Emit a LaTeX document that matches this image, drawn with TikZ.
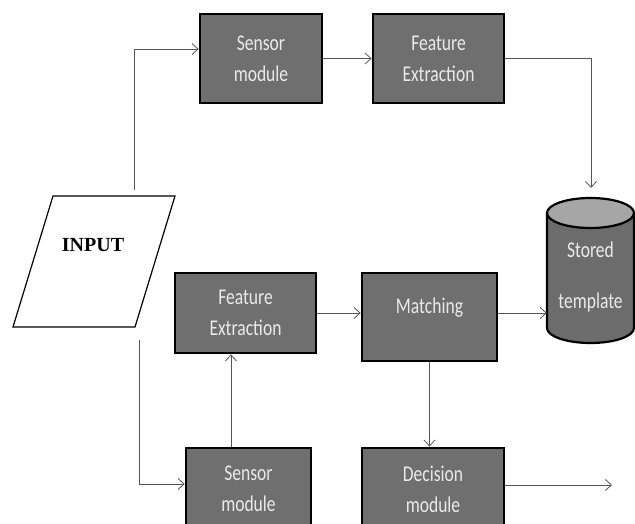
\documentclass[tikz,border=0pt]{standalone}
\usepackage{fontspec}
\usetikzlibrary{arrows.meta,calc}
\newfontfamily\boxfont[FakeStretch=0.78]{Carlito}
\newfontfamily\inputfont{Liberation Serif}
\definecolor{boxgray}{HTML}{6F6F6F}
\definecolor{boxtxt}{HTML}{EAEAEA}
\definecolor{cylbody}{HTML}{6C6C6C}
\definecolor{cyltop}{HTML}{A6A6A6}
\definecolor{linkgray}{HTML}{555555}
\begin{document}
\begin{tikzpicture}[x=1pt,y=-1pt,
  boxtext/.style={text=boxtxt, font=\boxfont\fontsize{22.5}{31}\selectfont, align=center, inner sep=0pt},
  procbox/.style={boxtext, draw=black, line width=2.8pt, fill=boxgray},
  link/.style={draw=linkgray, line width=0.8pt, -{Straight Barb[length=6pt,width=11pt]}}]
\useasboundingbox (0,0) rectangle (635,524);
\clip (0,0) rectangle (635,524);

% enrolment branch
\node[procbox, minimum width=122pt, minimum height=89pt] (sens1) at (261,58.5) {Sensor\\module};
\node[procbox, minimum width=131pt, minimum height=89pt] (feat1) at (438.5,58.5) {Feature\\Extraction};

% verification branch
\node[procbox, minimum width=141pt, minimum height=80pt] (feat2) at (245.5,313) {Feature\\Extraction};
\node[procbox, minimum width=135pt, minimum height=88pt] (match) at (429.5,317) {};
\node[boxtext] (matchlabel) at (429.5,308) {Matching};
\node[procbox, minimum width=125pt, minimum height=82pt] (sens2) at (248.5,489) {Sensor\\module};
\node[procbox, minimum width=142pt, minimum height=82pt] (dec) at (433,489) {Decision\\module};

% input parallelogram
\draw[line width=1.2pt, fill=white] (53,196) -- (175,196) -- (135,327) -- (13,327) -- cycle;
\node[font=\inputfont\bfseries\fontsize{20}{24}\selectfont] (inp) at (93,245) {INPUT};
\coordinate (intop) at (134,190);
\coordinate (inbot) at (139,340);

% database cylinder
\fill[cylbody] (547,213) -- (547,328) arc[start angle=180, end angle=360, x radius=43.5pt, y radius=15pt] -- (634,213) -- cycle;
\draw[line width=2.2pt] (547,213) -- (547,328) arc[start angle=180, end angle=360, x radius=43.5pt, y radius=15pt] -- (634,213);
\draw[line width=2.2pt, fill=cyltop] (590.5,213) ellipse [x radius=43.5pt, y radius=15pt];
\node[boxtext, minimum width=87pt] (store) at (590.5,277.5) {Stored\\[20pt]template};
\coordinate (storetop) at (591,188);
\coordinate (out) at (612,485);

% connectors
\draw[link] (intop) |- ([yshift=9.5pt]sens1.west);
\draw[link] (sens1.east) -- (feat1.west);
\draw[link] (feat1.east) -| (storetop);
\draw[link] (feat2.east) -- (feat2.east -| match.west);
\draw[link] (feat2.east -| match.east) -- (feat2.east -| store.west);
\draw[link] (match.south) -- (match.south |- dec.north);
\draw[link] ([xshift=-17.5pt]sens2.north) -- ([xshift=-17.5pt]sens2.north |- feat2.south);
\draw[link] (inbot) |- ([yshift=5pt]sens2.west);
\draw[link] (dec.east |- out) -- (out);
\end{tikzpicture}
\end{document}
